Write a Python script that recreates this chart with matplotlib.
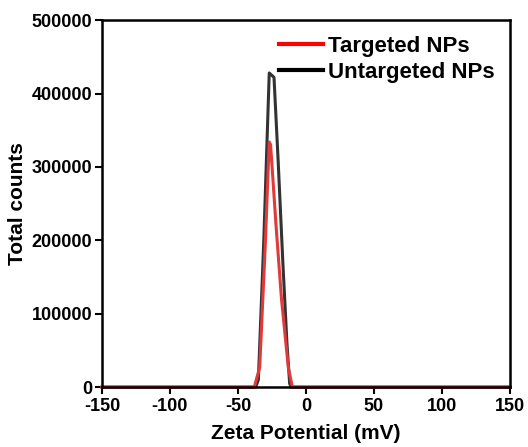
import numpy as np
import matplotlib.pyplot as plt

plt.rcParams['font.family'] = ['Liberation Sans', 'DejaVu Sans']
plt.rcParams['font.weight'] = 'bold'
plt.rcParams['axes.unicode_minus'] = False

# zeta potential data (mV)
x_untargeted = [-150, -37, -35, -31, -27, -23.5, -20.5, -17, -14, -12, -11, 150]
y_untargeted = [0, 0, 10000, 200000, 428000, 422000, 310000, 170000, 60000, 5000, 0, 0]

x_targeted = [-150, -38, -34, -30, -27, -26, -22, -18, -13, -10, 150]
y_targeted = [0, 0, 27000, 190000, 334000, 330000, 220000, 120000, 27000, 0, 0]

fig = plt.figure(figsize=(5.28, 4.47), dpi=100)
ax = fig.add_axes([0.193, 0.134, 0.773, 0.821])

ax.plot(x_untargeted, y_untargeted, color='#333333', lw=2.2, label='Untargeted NPs', clip_on=False)
ax.plot(x_targeted, y_targeted, color='#e03a3a', lw=2.2, label='Targeted NPs', clip_on=False)

ax.set_xlim(-150, 150)
ax.set_ylim(0, 500000)
ax.set_xticks(np.arange(-150, 151, 50))
ax.set_yticks(np.arange(0, 500001, 100000))
ax.tick_params(direction='out', length=5, width=1.5, labelsize=13, pad=2)
ax.tick_params(axis='x', pad=3)
for s in ax.spines.values():
    s.set_linewidth(1.8)

ax.set_xlabel('Zeta Potential (mV)', fontsize=15, fontweight='bold', labelpad=6)
ax.set_ylabel('Total counts', fontsize=15, fontweight='bold', labelpad=3)

# legend: targeted first in red, untargeted in black
handles, labels = ax.get_legend_handles_labels()
leg = ax.legend(handles[::-1], labels[::-1], loc='upper right', frameon=False,
                fontsize=16, handlelength=2.0, handletextpad=0.2,
                borderaxespad=0.3, labelspacing=0.25)
leg.legend_handles[0].set_color('red')
leg.legend_handles[1].set_color('black')
for h in leg.legend_handles:
    h.set_linewidth(3)

fig.savefig('out.png', dpi=100)
